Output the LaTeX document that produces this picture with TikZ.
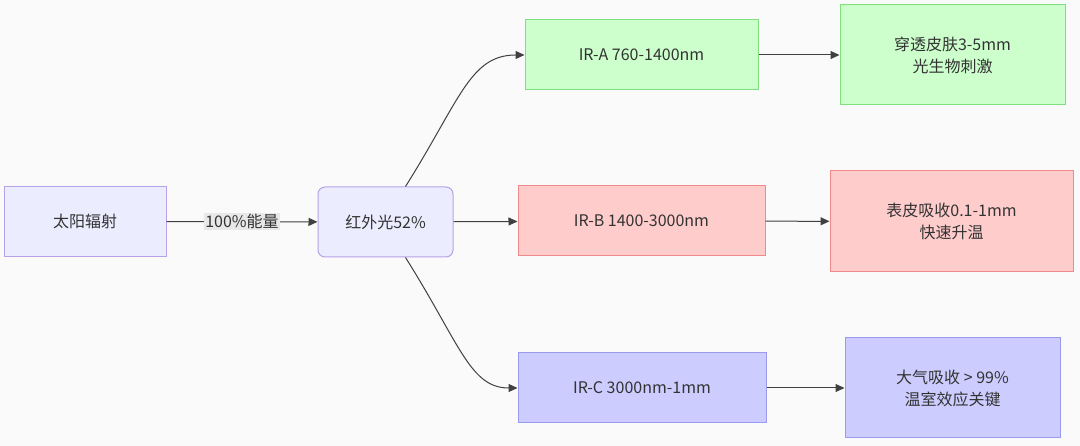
\documentclass[tikz,border=0pt]{standalone}
\usepackage{fontspec}
\setmainfont{Noto Sans CJK SC}
\usetikzlibrary{arrows.meta}
\definecolor{bg}{HTML}{FAFAFA}
\definecolor{pf}{HTML}{ECECFF}\definecolor{pd}{HTML}{B7A2E8}
\definecolor{gf}{HTML}{CCFFCC}\definecolor{gd}{HTML}{7FE07F}
\definecolor{rf}{HTML}{FFCCCC}\definecolor{rd}{HTML}{F08A8A}
\definecolor{bf}{HTML}{CCCCFF}\definecolor{bd}{HTML}{9A9AF0}
\definecolor{lbl}{HTML}{E8E8E8}
\tikzset{
  box/.style={draw, line width=1pt, minimum width=#1, minimum height=70pt, align=center, font=\fontsize{16pt}{22pt}\selectfont, text=black!80, inner sep=0pt},
  purp/.style={fill=pf, draw=pd},
  grn/.style={fill=gf, draw=gd},
  red/.style={fill=rf, draw=rd},
  blu/.style={fill=bf, draw=bd},
  arr/.style={draw=black!75, line width=1pt, -{Triangle[length=9pt,width=8pt]}},
}
\begin{document}
\begin{tikzpicture}[x=1pt,y=-1pt]
\fill[bg] (0,0) rectangle (1080,446);
\useasboundingbox (0,0) rectangle (1080,446);
\node[box=162pt,purp] (sun) at (85,221.5) {太阳辐射};
\node[box=135pt,purp,rounded corners=7pt] (ir) at (385.5,222) {红外光52\%};
\node[box=233pt,grn,minimum height=70pt] (a) at (641.5,55) {IR-A 760-1400nm};
\node[box=225pt,grn,minimum height=100pt] (a2) at (952.5,55) {穿透皮肤3-5mm\\光生物刺激};
\node[box=247pt,red] (b) at (641.5,221) {IR-B 1400-3000nm};
\node[box=243pt,red,minimum height=101pt] (b2) at (951.5,221.5) {表皮吸收0.1-1mm\\快速升温};
\node[box=248pt,blu] (c) at (642,388) {IR-C 3000nm-1mm};
\node[box=215pt,blu,minimum height=100pt] (c2) at (952.5,388) {大气吸收 > 99\%\\温室效应关键};
\draw[arr] (sun) -- node[fill=lbl, inner sep=1pt, font=\fontsize{16pt}{20pt}\selectfont, text=black!80] {100\%能量} (ir);
\draw[arr] (ir) -- (b);
\draw[arr] (ir.north) ++(20,0) .. controls (460,100) and (470,55) .. (a.west);
\draw[arr] (ir.south) ++(20,0) .. controls (460,344) and (470,388) .. (c.west);
\draw[arr] (a) -- (a2);
\draw[arr] (b) -- (b2);
\draw[arr] (c) -- (c2);
\end{tikzpicture}
\end{document}
